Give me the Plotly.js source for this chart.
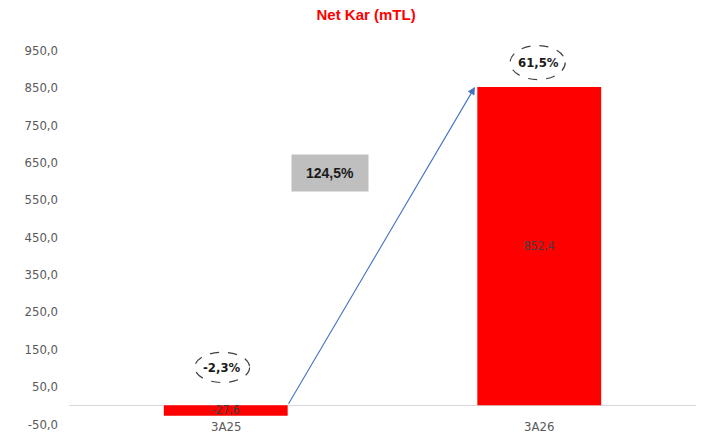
<!DOCTYPE html>
<html>
<head>
<meta charset="utf-8">
<script src="https://cdn.plot.ly/plotly-3.0.1.min.js"></script>
<style>html,body{margin:0;padding:0;background:#fff;}#chart{width:704px;height:436px;}</style>
</head>
<body>
<div id="chart"></div>
<script>
// ---- data ----
const categories = ["3A25", "3A26"];
const values = [-27.6, 852.4];
const valueLabels = ["-27,6", "852,4"];
const shareLabels = ["-2,3%", "61,5%"];
const growthLabel = "124,5%";
const tickVals = [-50, 50, 150, 250, 350, 450, 550, 650, 750, 850, 950];
const tickText = ["-50,0", "50,0", "150,0", "250,0", "350,0", "450,0", "550,0", "650,0", "750,0", "850,0", "950,0"];
const titleText = "Net Kar (mTL)";

const narrow = '"Liberation Sans Narrow", "Arial Narrow", "DejaVu Sans Condensed", Arial, sans-serif';
const barWidth = 0.395;

const trace = {
  type: 'bar',
  x: [0, 1],
  y: values,
  width: [barWidth, barWidth],
  marker: {color: '#FF0000', line: {width: 0}},
  text: valueLabels,
  textposition: 'inside',
  insidetextanchor: 'middle',
  constraintext: 'none',
  textfont: {family: narrow, size: 12, color: '#404040'},
  hoverinfo: 'skip'
};

const annotations = [];
// category labels along the zero line
categories.forEach((c, i) => {
  annotations.push({
    x: i, y: 0, xref: 'x', yref: 'y', text: c, showarrow: false,
    yshift: -21, font: {family: narrow, size: 13, color: '#595959'}
  });
});
// share labels in dashed ellipses
const shareY = [102, 918];
const shareX = [-0.012, 0.996];
shareLabels.forEach((t, i) => {
  annotations.push({
    x: shareX[i], y: shareY[i], xref: 'x', yref: 'y', text: '<b>' + t + '</b>', showarrow: false,
    font: {family: narrow, size: 13, color: '#1a1a1a'}
  });
});
// growth arrow
annotations.push({
  x: 0.795, y: values[1], xref: 'x', yref: 'y',
  ax: barWidth / 2, ay: 0, axref: 'x', ayref: 'y',
  text: '', showarrow: true, arrowhead: 2, arrowsize: 1.4, arrowwidth: 1.1, arrowcolor: '#4472C4'
});
// growth box
annotations.push({
  x: 0.333, y: 621, xref: 'x', yref: 'y', text: '<b>' + growthLabel + '</b>', showarrow: false,
  bgcolor: '#BFBFBF', width: 72, height: 32, borderpad: 2,
  font: {family: 'Liberation Sans, Arial, sans-serif', size: 14, color: '#1a1a1a'}
});

const shapes = [
  {type: 'circle', xref: 'x', yref: 'y', x0: -0.099, x1: 0.076, y0: 61, y1: 142,
   line: {color: '#404040', width: 1.2, dash: 'dash'}, fillcolor: 'rgba(0,0,0,0)'},
  {type: 'circle', xref: 'x', yref: 'y', x0: 0.907, x1: 1.083, y0: 872, y1: 963,
   line: {color: '#404040', width: 1.2, dash: 'dash'}, fillcolor: 'rgba(0,0,0,0)'}
];

const layout = {
  width: 704, height: 436,
  margin: {l: 69, r: 8, t: 28, b: 12},
  paper_bgcolor: '#ffffff', plot_bgcolor: '#ffffff',
  separators: ',.',
  showlegend: false,
  title: {
    text: '<b>' + titleText + '</b>', xref: 'container', yref: 'container',
    x: 0.52, xanchor: 'center', y: 0.966, yanchor: 'middle',
    font: {family: 'Liberation Sans, Arial, sans-serif', size: 15, color: '#FF0000'}
  },
  xaxis: {
    range: [-0.5, 1.5], showticklabels: false, showgrid: false, zeroline: false,
    showline: false, ticks: '', fixedrange: true
  },
  yaxis: {
    range: [-50, 1010], tickmode: 'array', tickvals: tickVals, ticktext: tickText,
    showgrid: false, zeroline: true, zerolinecolor: '#D9D9D9', zerolinewidth: 1.2,
    showline: false, ticks: '', ticklabelstandoff: 10,
    tickfont: {family: narrow, size: 13, color: '#595959'}, fixedrange: true
  },
  annotations: annotations,
  shapes: shapes
};

Plotly.newPlot('chart', [trace], layout, {displayModeBar: false, staticPlot: true});
</script>
</body>
</html>
